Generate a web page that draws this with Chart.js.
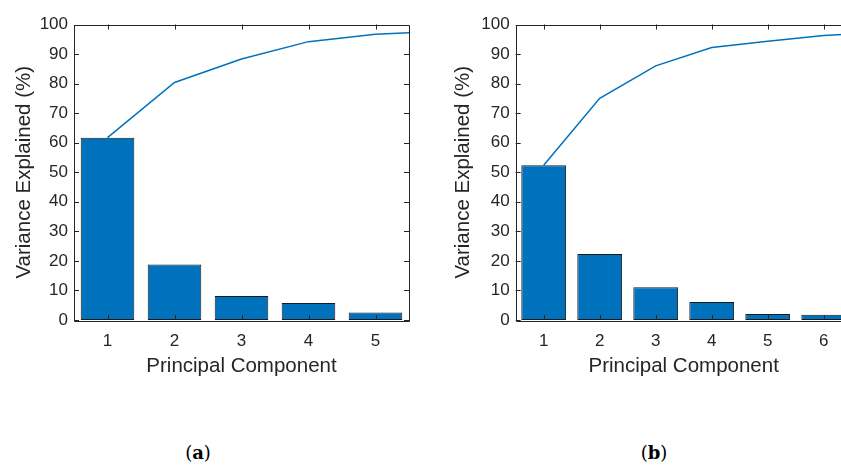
<!DOCTYPE html>
<html>
<head>
<meta charset="utf-8">
<script src="https://cdn.jsdelivr.net/npm/chart.js@4.4.1/dist/chart.umd.min.js"></script>
<style>
  html, body { margin: 0; padding: 0; background: #ffffff; overflow: hidden; width: 841px; height: 466px; }
  #wrap { position: relative; width: 841px; height: 466px; overflow: hidden; }
  canvas { position: absolute; top: 0; }
  #ca { left: 0; }
  #cb { left: 420px; }
  .cap { position: absolute; top: 442px; font-family: "DejaVu Serif", "Liberation Serif", serif; font-size: 18px; color: #000; transform: translateX(-50%); white-space: nowrap; }
  .cap b { font-weight: bold; }
</style>
</head>
<body>
<div id="wrap">
  <canvas id="ca" width="420" height="400"></canvas>
  <canvas id="cb" width="460" height="400"></canvas>
  <div class="cap" style="left:198px">(<b>a</b>)</div>
  <div class="cap" style="left:654px">(<b>b</b>)</div>
</div>
<script>
// ---- Data ----
const componentsA = [1, 2, 3, 4, 5];
const varianceA = [61.7, 18.8, 8.1, 5.75, 2.5];
const cumComponentsA = [1, 2, 3, 4, 5, 6];
const cumulativeA = [61.7, 80.4, 88.3, 94.2, 96.7, 97.7];

const componentsB = [1, 2, 3, 4, 5, 6];
const varianceB = [52.4, 22.3, 11.1, 6.1, 2.0, 1.8];
const cumComponentsB = [1, 2, 3, 4, 5, 6, 7];
const cumulativeB = [52.4, 75.0, 86.0, 92.2, 94.3, 96.3, 97.3];

const yTicks = [0, 10, 20, 30, 40, 50, 60, 70, 80, 90, 100];
const xLabel = 'Principal Component';
const yLabel = 'Variance Explained (%)';

const AXIS_COLOR = '#262626';
const BAR_COLOR = '#0072BD';

const boxTicks = {
  id: 'boxTicks',
  afterDatasetsDraw(chart) {
    const {ctx, chartArea: a, scales: {x, y}} = chart;
    const len = 5;
    ctx.save();
    ctx.strokeStyle = AXIS_COLOR;
    ctx.lineWidth = 1;
    ctx.beginPath();
    x.ticks.forEach(t => {
      const px = Math.round(x.getPixelForValue(t.value)) + 0.5;
      ctx.moveTo(px, a.bottom); ctx.lineTo(px, a.bottom - len);
      ctx.moveTo(px, a.top); ctx.lineTo(px, a.top + len);
    });
    y.ticks.forEach(t => {
      const py = Math.round(y.getPixelForValue(t.value)) + 0.5;
      ctx.moveTo(a.left, py); ctx.lineTo(a.left + len, py);
      ctx.moveTo(a.right, py); ctx.lineTo(a.right - len, py);
    });
    ctx.stroke();
    ctx.beginPath();
    ctx.rect(Math.round(a.left) + 0.5, Math.round(a.top) + 0.5,
             Math.round(a.right - a.left), Math.round(a.bottom - a.top));
    ctx.stroke();
    ctx.restore();
  }
};

function makeChart(id, comps, vals, cumComps, cums, xmax, yAxisWidth, yTitlePad, padRight) {
  const barData = comps.map((c, i) => ({x: c, y: vals[i]}));
  const lineData = cumComps.map((c, i) => ({x: c, y: cums[i]}));
  return new Chart(document.getElementById(id), {
    data: {
      datasets: [
        { type: 'line', data: lineData, borderColor: BAR_COLOR, borderWidth: 1.5,
          pointRadius: 0, tension: 0, fill: false, order: 0 },
        { type: 'bar', data: barData, backgroundColor: BAR_COLOR, borderColor: '#1a1a1a',
          borderWidth: 1, borderSkipped: false, barPercentage: 0.8, categoryPercentage: 1.0, order: 1 }
      ]
    },
    options: {
      responsive: false,
      animation: false,
      events: [],
      layout: { padding: { top: 24.5, right: padRight, bottom: 0, left: 0 } },
      plugins: { legend: { display: false }, tooltip: { enabled: false } },
      scales: {
        x: {
          type: 'linear', min: 0.5, max: xmax, offset: false,
          grid: { display: false, drawTicks: false, offset: false },
          border: { display: false },
          afterBuildTicks: s => { s.ticks = comps.map(v => ({value: v})); },
          afterFit: s => { s.height = 80; },
          ticks: { color: AXIS_COLOR, padding: 11, font: { family: 'Liberation Sans, Arial, sans-serif', size: 17 },
                   callback: v => String(v) },
          title: { display: true, text: xLabel, color: AXIS_COLOR, padding: { top: 0, bottom: 21 },
                   font: { family: 'Liberation Sans, Arial, sans-serif', size: 20.5 } }
        },
        y: {
          type: 'linear', min: 0, max: 100,
          grid: { display: false, drawTicks: false },
          border: { display: false },
          afterBuildTicks: s => { s.ticks = yTicks.map(v => ({value: v})); },
          afterFit: s => { s.width = yAxisWidth; },
          ticks: { color: AXIS_COLOR, padding: 6, font: { family: 'Liberation Sans, Arial, sans-serif', size: 17 } },
          title: { display: true, text: yLabel, color: AXIS_COLOR, padding: { top: yTitlePad, bottom: 0 },
                   font: { family: 'Liberation Sans, Arial, sans-serif', size: 20.5 } }
        }
      }
    },
    plugins: [boxTicks]
  });
}

makeChart('ca', componentsA, varianceA, cumComponentsA, cumulativeA, 5.5, 74, 12, 11);
makeChart('cb', componentsB, varianceB, cumComponentsB, cumulativeB, 6.5, 95.7, 31, 28.3);
</script>
</body>
</html>
